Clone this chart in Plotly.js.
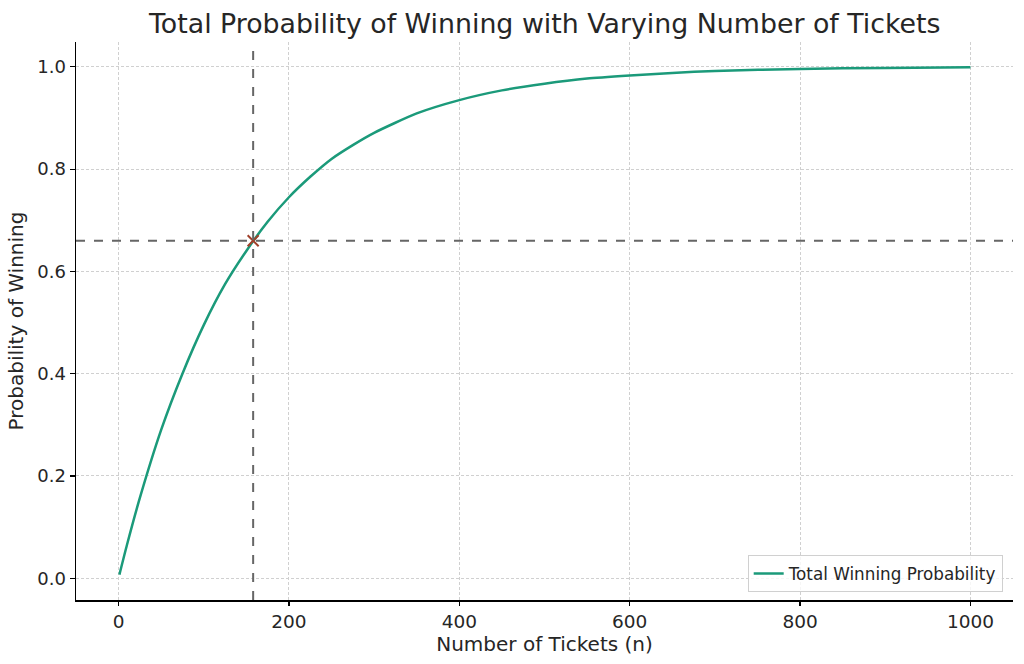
<!DOCTYPE html>
<html>
<head>
<meta charset="utf-8">
<script src="https://cdn.plot.ly/plotly-3.0.1.min.js"></script>
<style>html,body{margin:0;padding:0;background:#fff;}#chart{width:1024px;height:664px;}</style>
</head>
<body>
<div id="chart"></div>
<script>
// Values
const tickets = [1, 10, 25, 50, 75, 100, 125, 150, 175, 200, 225, 250, 275, 300, 350, 400, 450, 500, 550, 600, 650, 700, 800, 900, 1000];
const probability = [0.007, 0.066, 0.157, 0.29, 0.40, 0.495, 0.575, 0.64, 0.697, 0.745, 0.785, 0.82, 0.847, 0.871, 0.909, 0.935, 0.954, 0.967, 0.977, 0.983, 0.988, 0.992, 0.996, 0.998, 0.999];
const markerN = [158];
const markerP = [0.66];
const xTicks = [0, 200, 400, 600, 800, 1000];
const yTicks = [0.0, 0.2, 0.4, 0.6, 0.8, 1.0];
const yTickText = ["0.0", "0.2", "0.4", "0.6", "0.8", "1.0"];

const font = "DejaVu Sans, sans-serif";
const txt = "#262626";
const traces = [
  {
    x: tickets, y: probability, type: "scatter", mode: "lines",
    name: "Total Winning Probability",
    line: {color: "#1b9a7a", width: 2.5, shape: "spline", smoothing: 0.6}
  },
  {
    x: markerN, y: markerP, type: "scatter", mode: "markers",
    showlegend: false,
    marker: {symbol: "x-thin", size: 11, line: {color: "#a0402a", width: 2}, color: "#a0402a"}
  }
];
const layout = {
  width: 1024, height: 664,
  margin: {l: 76, r: 11, t: 42, b: 64},
  paper_bgcolor: "#fff", plot_bgcolor: "#fff",
  font: {family: font, color: txt, size: 18},
  title: {text: "Total Probability of Winning with Varying Number of Tickets", x: 0.532, xanchor: "center", y: 0.965, yanchor: "middle", font: {size: 26.8, family: font, color: txt}},
  xaxis: {
    range: [-49.95, 1049.95], tickvals: xTicks, ticktext: xTicks.map(String),
    showgrid: true, gridcolor: "#d0d0d0", griddash: "3px,2px", gridwidth: 1,
    zeroline: false, showline: true, linecolor: "#000", linewidth: 1.5,
    ticks: "outside", ticklen: 4, tickcolor: "#000", tickwidth: 1.2,
    tickfont: {size: 18.5, family: font, color: txt},
    title: {text: "Number of Tickets (n)", font: {size: 20, family: font, color: txt}, standoff: 6}
  },
  yaxis: {
    range: [-0.0426, 1.0486], tickvals: yTicks, ticktext: yTickText,
    showgrid: true, gridcolor: "#d0d0d0", griddash: "3px,2px", gridwidth: 1,
    zeroline: false, showline: true, linecolor: "#000", linewidth: 1.5,
    ticks: "outside", ticklen: 5, tickcolor: "#000", tickwidth: 1.2,
    tickfont: {size: 18, family: font, color: txt},
    title: {text: "Probability of Winning", font: {size: 20, family: font, color: txt}, standoff: 8}
  },
  shapes: [
    {type: "line", xref: "x", yref: "paper", x0: markerN[0], x1: markerN[0], y0: 0, y1: 1, line: {color: "#666", width: 2, dash: "dash"}},
    {type: "line", xref: "paper", yref: "y", x0: 0, x1: 1, y0: markerP[0], y1: markerP[0], line: {color: "#666", width: 2, dash: "dash"}}
  ],
  legend: {
    x: 0.989, y: 0.014, xanchor: "right", yanchor: "bottom",
    bgcolor: "rgba(255,255,255,0.8)", bordercolor: "#d0d0d0", borderwidth: 1,
    font: {size: 16.8, family: font, color: txt}
  },
  showlegend: true
};
Plotly.newPlot("chart", traces, layout, {displayModeBar: false, staticPlot: true});
</script>
</body>
</html>
